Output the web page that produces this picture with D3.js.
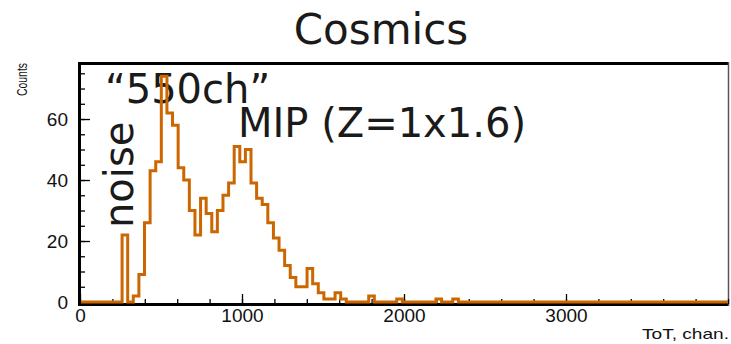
<!DOCTYPE html>
<html>
<head>
<meta charset="utf-8">
<script src="https://cdn.jsdelivr.net/npm/d3@7"></script>
<style>
  body { margin: 0; background: #fff; }
  svg { display: block; }
</style>
</head>
<body>
<svg id="chart" width="731" height="344"></svg>
<script>
// Histogram binning (ToT channels)
const binStart = -17;
const binWidth = 34.6;

// Counts per bin, starting at binStart
const counts = [
  0, 0, 0, 0, 0, 0, 0, 0, 22, 0,
  2, 9, 26, 43, 46, 74, 62, 58, 44, 40,
  30, 22, 34, 29, 23, 30, 35, 39, 51, 46,
  50, 39, 34, 32, 26, 21, 17, 12, 8, 5,
  5, 11, 6, 3, 1, 1, 3, 1, 0, 0,
  0, 0, 2, 0, 0, 0, 0, 1, 0, 0,
  0, 0, 0, 0, 1, 0, 0, 1, 0, 0,
  0, 0, 0, 0, 0, 0, 0, 0, 0, 0,
  0, 0, 0, 0, 0, 0, 0, 0, 0, 0,
  0, 0, 0, 0, 0, 0, 0, 0, 0, 0,
  0, 0, 0, 0, 0, 0, 0, 0, 0, 0,
  0, 0, 0, 0, 0, 0, 0
];

const xDomain = [0, 4000];
const yDomain = [0, 78.7];
const xTicks = [0, 1000, 2000, 3000];
const xMinorTicks = d3.range(0, 4001, 200);
const yTicks = [0, 20, 40, 60];
const yMinorTicks = d3.range(0, 76, 5);

const titleText = "Cosmics";
const xTitle = "ToT, chan.";
const yTitle = "Counts";
const peakNote = "\u201C550ch\u201D";
const mipNote = "MIP (Z=1x1.6)";
const noiseNote = "noise";

const svg = d3.select("#chart");
const frame = { left: 80, right: 728, top: 62, bottom: 302 };

const x = d3.scaleLinear().domain(xDomain).range([frame.left, frame.right]);
const y = d3.scaleLinear().domain(yDomain).range([frame.bottom, frame.top]);

const tickFont = "'Liberation Sans', Arial, Helvetica, sans-serif";
const noteFont = "'DejaVu Sans', Verdana, sans-serif";

// Title
svg.append("text")
  .attr("x", 381).attr("y", 44)
  .attr("text-anchor", "middle")
  .attr("font-family", noteFont)
  .attr("font-size", 42)
  .attr("fill", "#1a1a1a")
  .text(titleText);

// Axis lines of the frame
svg.append("line")
  .attr("x1", frame.left - 1.5).attr("x2", frame.right)
  .attr("y1", frame.bottom + 2.5).attr("y2", frame.bottom + 2.5)
  .attr("stroke", "#000").attr("stroke-width", 3);
svg.append("line")
  .attr("x1", frame.left - 0.5).attr("x2", frame.left - 0.5)
  .attr("y1", frame.top).attr("y2", frame.bottom + 4)
  .attr("stroke", "#000").attr("stroke-width", 3);
svg.append("line")
  .attr("x1", frame.left - 2).attr("x2", frame.right + 1)
  .attr("y1", frame.top + 1.5).attr("y2", frame.top + 1.5)
  .attr("stroke", "#000").attr("stroke-width", 3);
svg.append("line")
  .attr("x1", frame.right + 0.5).attr("x2", frame.right + 0.5)
  .attr("y1", frame.top).attr("y2", frame.bottom + 4)
  .attr("stroke", "#555").attr("stroke-width", 1.5);

// X axis: major and minor ticks pointing into the frame
const gxMinor = svg.append("g")
  .attr("transform", `translate(0,${frame.bottom + 2})`)
  .call(d3.axisBottom(x).tickValues(xMinorTicks).tickSizeInner(-5).tickSizeOuter(0).tickFormat(""));
const gx = svg.append("g")
  .attr("transform", `translate(0,${frame.bottom + 2})`)
  .call(d3.axisBottom(x).tickValues(xTicks).tickSizeInner(-10).tickSizeOuter(0).tickPadding(5).tickFormat(d3.format("d")));

// Y axis: major and minor ticks pointing into the frame
const gyMinor = svg.append("g")
  .attr("transform", `translate(${frame.left},0)`)
  .call(d3.axisLeft(y).tickValues(yMinorTicks).tickSizeInner(-5).tickSizeOuter(0).tickFormat(""));
const gy = svg.append("g")
  .attr("transform", `translate(${frame.left},0)`)
  .call(d3.axisLeft(y).tickValues(yTicks).tickSizeInner(-10).tickSizeOuter(0).tickPadding(12).tickFormat(d3.format("d")));

[gx, gy, gxMinor, gyMinor].forEach(g => {
  g.select(".domain").remove();
  g.selectAll(".tick line").attr("stroke", "#000").attr("stroke-width", 1.3);
  g.selectAll(".tick text")
    .attr("font-family", tickFont)
    .attr("font-size", 19)
    .attr("fill", "#111");
});

// Axis titles
svg.append("text")
  .attr("x", 729).attr("y", 339)
  .attr("text-anchor", "end")
  .attr("font-family", tickFont)
  .attr("font-size", 15)
  .attr("textLength", 87)
  .attr("lengthAdjust", "spacingAndGlyphs")
  .attr("fill", "#111")
  .text(xTitle);
svg.append("text")
  .attr("transform", "translate(27,63) rotate(-90)")
  .attr("text-anchor", "end")
  .attr("font-family", tickFont)
  .attr("font-size", 14)
  .attr("textLength", 33)
  .attr("lengthAdjust", "spacingAndGlyphs")
  .attr("fill", "#111")
  .text(yTitle);

// Annotations
svg.append("text")
  .attr("x", 105).attr("y", 103)
  .attr("font-family", noteFont).attr("font-size", 40).attr("fill", "#1a1a1a")
  .text(peakNote);
svg.append("text")
  .attr("x", 238).attr("y", 137)
  .attr("font-family", noteFont).attr("font-size", 40).attr("fill", "#1a1a1a")
  .text(mipNote);
svg.append("text")
  .attr("transform", "translate(133,228) rotate(-90)")
  .attr("font-family", noteFont).attr("font-size", 40).attr("fill", "#1a1a1a")
  .text(noiseNote);

// Histogram as a step line
svg.append("clipPath").attr("id", "plotClip")
  .append("rect")
  .attr("x", frame.left + 1).attr("y", frame.top - 20)
  .attr("width", frame.right - frame.left - 1).attr("height", frame.bottom - frame.top + 30);

const steps = counts.map((c, i) => [binStart + i * binWidth, c]);
steps.push([binStart + counts.length * binWidth, counts[counts.length - 1]]);

const stepLine = d3.line()
  .x(d => x(d[0]))
  .y(d => y(d[1]))
  .curve(d3.curveStepAfter);

svg.append("path")
  .datum(steps)
  .attr("clip-path", "url(#plotClip)")
  .attr("fill", "none")
  .attr("stroke", "#cc6600")
  .attr("stroke-width", 3)
  .attr("stroke-linejoin", "miter")
  .attr("d", stepLine);
</script>
</body>
</html>
